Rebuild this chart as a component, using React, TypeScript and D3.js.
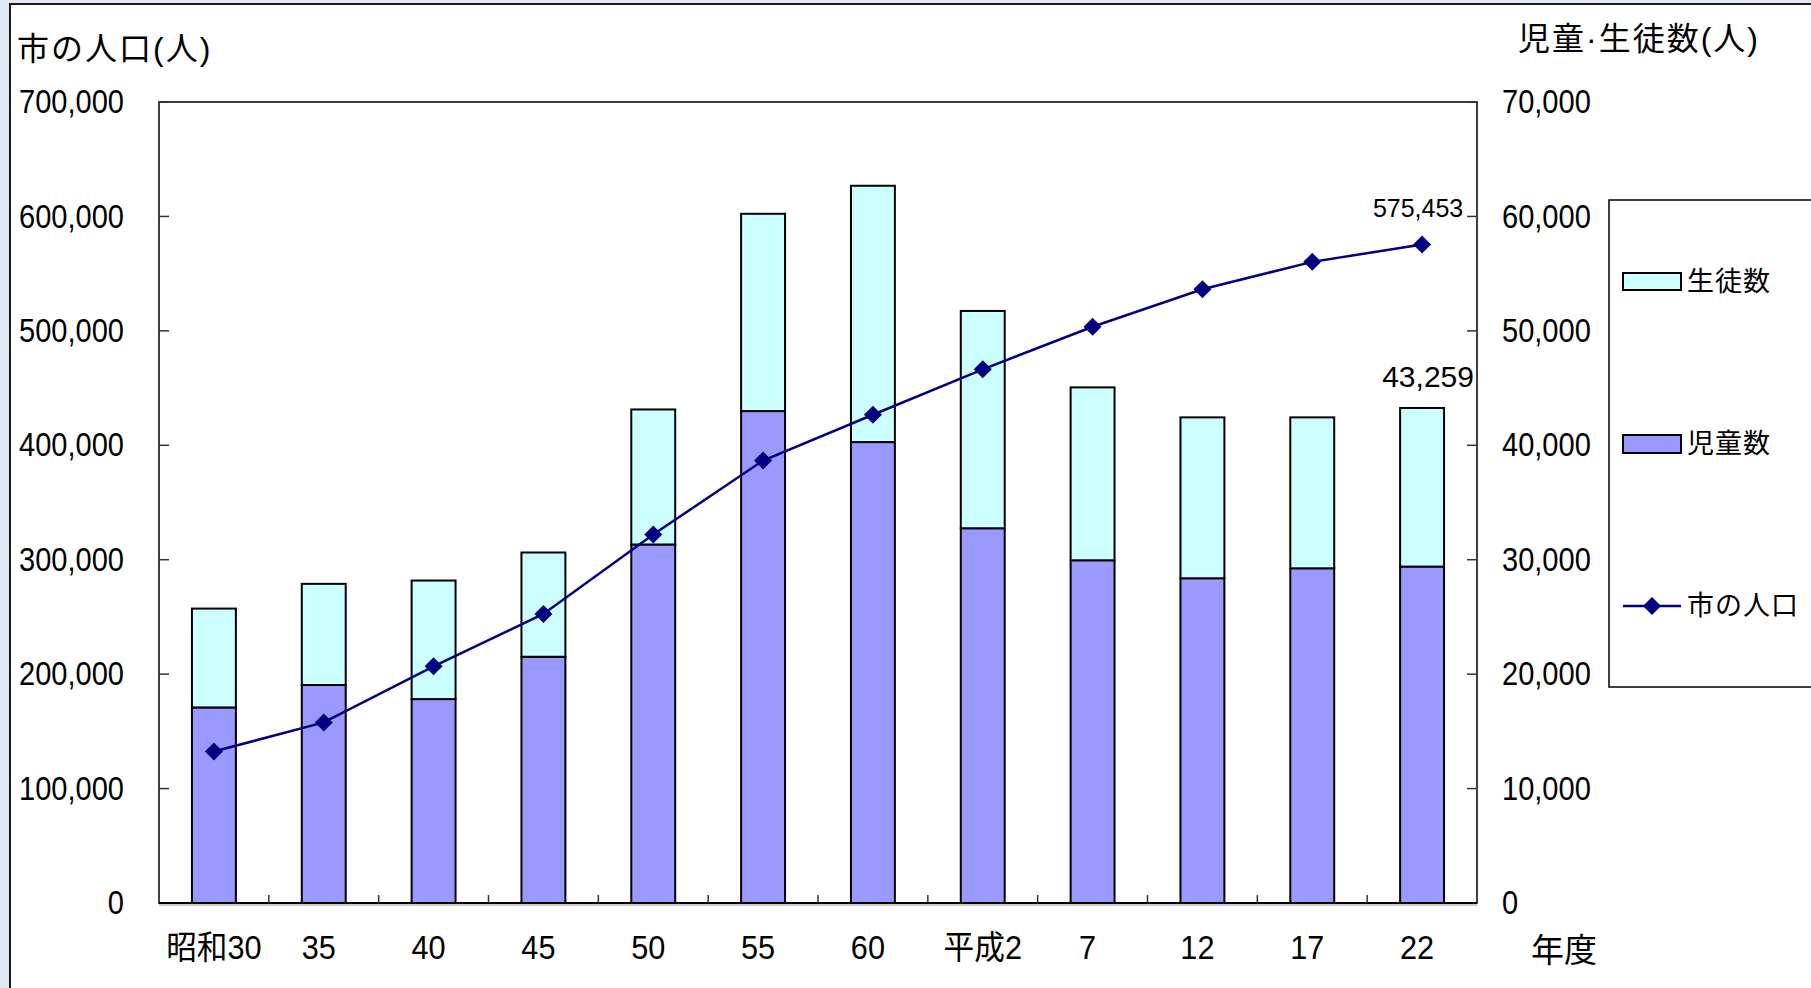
import * as d3 from "d3";

const W = 1811;
const H = 988;

// 年度
const years = ["昭和30", "35", "40", "45", "50", "55", "60", "平成2", "7", "12", "17", "22"];
// 児童数 (right axis)
const pupils = [17090, 19050, 17820, 21520, 31330, 42990, 40280, 32750, 29950, 28380, 29250, 29400];
// 生徒数 (right axis, stacked on 児童数)
const students = [8640, 8840, 10360, 9110, 11800, 17240, 22400, 18990, 15110, 14060, 13190, 13859];
// 市の人口 (left axis)
const population = [132400, 157800, 206800, 252600, 322000, 386700, 426700, 466400, 503600, 536400, 560300, 575453];

const leftTicks = [0, 100000, 200000, 300000, 400000, 500000, 600000, 700000];
const rightTicks = [0, 10000, 20000, 30000, 40000, 50000, 60000, 70000];

const FONT = "'Liberation Sans', Arial, 'Noto Sans CJK JP', sans-serif";
const fmt = d3.format(",");

const plot = { left: 159, right: 1477, top: 102, bottom: 903 };

// squeezed text, like the narrow digits of the original
function Sq({ x, y, sx = 0.88, size = 33, anchor = "start", children, baseline }: any) {
  return (
    <text
      transform={`translate(${x},${y}) scale(${sx},1)`}
      fontSize={size}
      textAnchor={anchor}
      dominantBaseline={baseline}
      fill="#000"
    >
      {children}
    </text>
  );
}

export default function App() {
  const x = d3.scaleBand<string>().domain(years).range([plot.left, plot.right]);
  const barW = x.bandwidth() * 0.4;
  const cx = (d: string) => (x(d) ?? 0) + x.bandwidth() / 2;

  const yR = d3.scaleLinear().domain([0, 70000]).range([plot.bottom, plot.top]);
  const yL = d3.scaleLinear().domain([0, 700000]).range([plot.bottom, plot.top]);

  const rows = years.map((year, i) => ({ year, pupils: pupils[i], students: students[i] }));
  const stacked = d3.stack<any>().keys(["pupils", "students"])(rows);
  const fills: Record<string, string> = { pupils: "#9999ff", students: "#ccffff" };

  const line = d3
    .line<number>()
    .x((_, i) => cx(years[i]))
    .y((d) => yL(d));

  const diamond = (px: number, py: number, r = 9) =>
    `M${px},${py - r}L${px + r},${py}L${px},${py + r}L${px - r},${py}Z`;

  const last = years.length - 1;

  return (
    <div style={{ position: "fixed", left: 0, top: 0, width: W, height: H }}>
      <svg width={W} height={H} fontFamily={FONT} style={{ display: "block" }}>
        <rect width={W} height={H} fill="#dfe8f5" />
        <rect x={10} y={4} width={W + 100} height={H + 100} fill="#fff" stroke="#1a1a1a" strokeWidth={2} />

        {/* titles */}
        <text x={17} y={60} fontSize={32} letterSpacing={2}>市の人口(人)</text>
        <text x={1518} y={50} fontSize={32} letterSpacing={2}>児童·生徒数(人)</text>

        {/* plot frame */}
        <rect
          x={plot.left}
          y={plot.top}
          width={plot.right - plot.left}
          height={plot.bottom - plot.top}
          fill="#fff"
          stroke="#000"
          strokeWidth={1.5}
        />

        {/* left axis */}
        {leftTicks.map((t) => (
          <g key={"l" + t}>
            <line x1={plot.left} x2={plot.left + 10} y1={yL(t)} y2={yL(t)} stroke="#333" strokeWidth={1.5} />
            <Sq x={124} y={yL(t)} anchor="end" baseline="central">{fmt(t)}</Sq>
          </g>
        ))}

        {/* right axis */}
        {rightTicks.map((t) => (
          <g key={"r" + t}>
            <line x1={plot.right - 10} x2={plot.right} y1={yR(t)} y2={yR(t)} stroke="#333" strokeWidth={1.5} />
            <Sq x={1502} y={yR(t)} baseline="central">{fmt(t)}</Sq>
          </g>
        ))}

        {/* bars */}
        {stacked.map((s) => (
          <g key={s.key} fill={fills[s.key]} stroke="#000" strokeWidth={2}>
            {s.map((d, i) => (
              <rect
                key={i}
                x={cx(years[i]) - barW / 2}
                y={yR(d[1])}
                width={barW}
                height={yR(d[0]) - yR(d[1])}
              />
            ))}
          </g>
        ))}

        {/* x axis */}
        <line x1={plot.left} x2={plot.right} y1={plot.bottom + 2} y2={plot.bottom + 2} stroke="#bbb" strokeWidth={1.5} />
        <line x1={plot.left} x2={plot.right} y1={plot.bottom} y2={plot.bottom} stroke="#000" strokeWidth={2} />
        {years.slice(1).map((d) => (
          <line key={"t" + d} x1={x(d)} x2={x(d)} y1={plot.bottom} y2={plot.bottom - 8} stroke="#333" strokeWidth={1.5} />
        ))}
        {years.map((d) => (
          <Sq key={"c" + d} x={cx(d) - (/^\d+$/.test(d) ? 5 : 0)} y={959} sx={0.93} anchor="middle">
            {d}
          </Sq>
        ))}
        <text x={1531} y={962} fontSize={33}>年度</text>

        {/* population line */}
        <path d={line(population) ?? ""} fill="none" stroke="#000080" strokeWidth={2.5} />
        {population.map((p, i) => (
          <path key={"m" + i} d={diamond(cx(years[i]), yL(p))} fill="#000080" />
        ))}

        {/* data labels */}
        <text x={cx(years[last]) - 4} y={217} fontSize={25} textAnchor="middle">
          {fmt(population[last])}
        </text>
        <text x={cx(years[last]) + 6} y={387} fontSize={30} textAnchor="middle">
          {fmt(pupils[last] + students[last])}
        </text>

        {/* legend */}
        <rect x={1609} y={200} width={300} height={487} fill="#fff" stroke="#000" strokeWidth={1.5} />
        <rect x={1623} y={273} width={58} height={17} fill={fills.students} stroke="#000" strokeWidth={2} />
        <text x={1687} y={282} fontSize={27} letterSpacing={1} dominantBaseline="central">生徒数</text>
        <rect x={1623} y={435} width={58} height={18} fill={fills.pupils} stroke="#000" strokeWidth={2} />
        <text x={1687} y={444} fontSize={27} letterSpacing={1} dominantBaseline="central">児童数</text>
        <line x1={1623} x2={1681} y1={606} y2={606} stroke="#000080" strokeWidth={2.5} />
        <path d={diamond(1652, 606)} fill="#000080" />
        <text x={1687} y={606} fontSize={27} letterSpacing={1} dominantBaseline="central">市の人口</text>
      </svg>
    </div>
  );
}
